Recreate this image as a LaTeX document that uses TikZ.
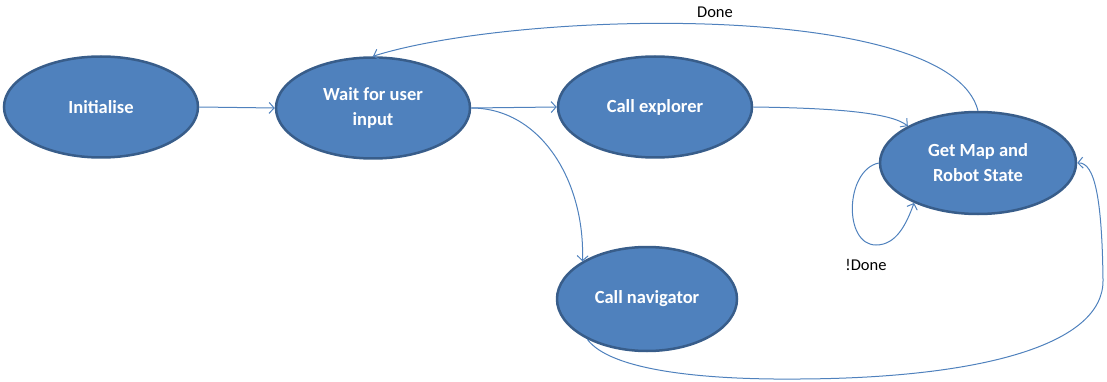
\documentclass[tikz,border=0pt]{standalone}
\usepackage{fontspec}
\setmainfont{Carlito}
\usetikzlibrary{shapes.geometric,arrows.meta}
\definecolor{statefill}{HTML}{4F81BD}
\definecolor{stateborder}{HTML}{385D8A}
\definecolor{edgeblue}{HTML}{4F81BD}

\begin{document}
\begin{tikzpicture}[x=1pt,y=-1pt,
  state/.style={ellipse, draw=stateborder, line width=2.5pt, fill=statefill,
    text=white, font=\fontsize{18.5}{25}\selectfont\bfseries, align=center,
    inner sep=0pt, minimum width=194pt, minimum height=101pt},
  edge/.style={draw=edgeblue, line width=1pt,
    -{Straight Barb[length=5pt,width=11pt]}},
  lbl/.style={font=\fontsize{16.5}{19}\selectfont, text=black}]
\useasboundingbox (0,0) rectangle (1107,382);

% states
\node[state] (init) at (101,107) {Initialise};
\node[state] (wait) at (373,108) {Wait for user\\input};
\node[state] (expl) at (655,107) {Call explorer};
\node[state, minimum width=180pt, minimum height=104pt] (nav) at (647,299) {Call navigator};
\node[state, minimum width=196pt, minimum height=102pt] (gm) at (978,163) {Get Map and\\Robot State};

% transitions
\draw[edge] (init.east) -- (wait.west);
\draw[edge] (wait.east) -- (expl.west);
\draw[edge] (wait.east) .. controls (540,108) and (585,180) .. (nav.north west);
\draw[edge] (expl.east) .. controls (830,108) and (890,112) .. (gm.north west);
\draw[edge] (gm.north) .. controls (950,0) and (520,10) .. (wait.north);
\draw[edge] (gm.180) .. controls (845,170) and (843,245) .. (876,245)
  .. controls (896,245) and (906,225) .. (gm.212);
\draw[edge] (nav.214) .. controls (610,370) and (700,380) .. (800,379)
  .. controls (980,378) and (1104,345) .. (1103,280)
  .. controls (1102,200) and (1095,162) .. (gm.east);

% labels
\node[lbl] (done) at (715,12) {Done};
\node[lbl] (notdone) at (866,265) {!Done};
\end{tikzpicture}
\end{document}
